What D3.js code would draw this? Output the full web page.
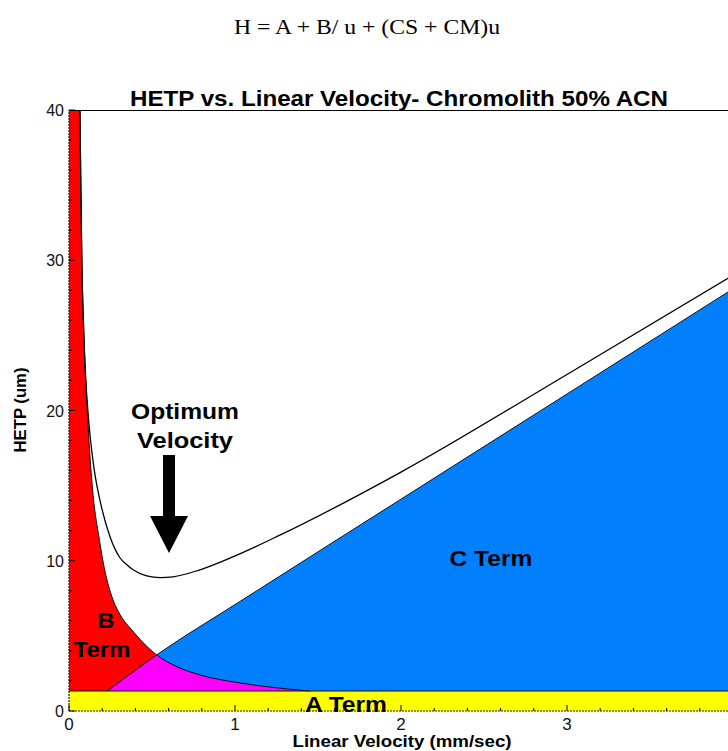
<!DOCTYPE html>
<html>
<head>
<meta charset="utf-8">
<script src="https://cdn.jsdelivr.net/npm/d3@7"></script>
<style>
  html, body { margin: 0; padding: 0; background: #fff; overflow: hidden; }
  svg { display: block; font-family: "Liberation Sans", Arial, sans-serif; }
</style>
</head>
<body>
<svg id="chart" width="728" height="751"></svg>
<script>
// ---- van Deemter contributions (HETP in um vs linear velocity in mm/sec) ----
const aTerm = 1.33;                       // eddy-diffusion (A) band height

// longitudinal diffusion (B/u) boundary, stacked on A
const bTermU = [0.062, 0.066, 0.072, 0.078, 0.090, 0.110, 0.140, 0.183, 0.203, 0.265, 0.295, 0.392, 0.528, 0.650, 0.789, 1.030, 1.330, 1.450];
const bTermH = [44.0, 40.0, 35.0, 30.0, 25.0, 20.0, 15.0, 11.4, 10.07, 7.40, 6.67, 5.22, 3.73, 2.95, 2.40, 1.87, 1.45, 1.33];

// mass-transfer (C·u) boundary, stacked on A
const cTermU = [0.229, 0.380, 0.528, 1.030, 2.000, 3.000, 4.000];
const cTermH = [1.33, 2.55, 3.73, 7.29, 14.10, 21.10, 28.10];

// overall plate height H = A + B/u + (CS + CM)u
const totalU = [0.062, 0.066, 0.072, 0.077, 0.088, 0.100, 0.115, 0.130, 0.150, 0.187, 0.247, 0.307, 0.347, 0.386, 0.468, 0.550, 0.627, 0.789, 0.990, 1.270, 2.000, 3.000, 4.000];
const totalH = [44.0, 40.0, 34.0, 30.0, 25.5, 22.3, 19.8, 18.0, 16.2, 14.0, 11.6, 10.2, 9.75, 9.40, 9.00, 8.88, 8.93, 9.40, 10.27, 11.70, 15.90, 22.40, 29.00];

const xTicks = [0, 1, 2, 3];
const yTicks = [0, 10, 20, 30, 40];
const xMinor = d3.range(0, 4.01, 0.2);
const yMinor = d3.range(0, 40.01, 2);

const zip = (us, hs) => us.map((u, i) => ({ u, h: hs[i] }));
const bPts = zip(bTermU, bTermH);
const cPts = zip(cTermU, cTermH);
const tPts = zip(totalU, totalH);

const svg = d3.select("#chart");
const x = d3.scaleLinear().domain([0, 4]).range([69, 733]);
const y = d3.scaleLinear().domain([0, 40]).range([711, 110]);

// plot clipping
const defs = svg.append("defs");
defs.append("clipPath").attr("id", "plotClip")
  .append("rect")
  .attr("x", x(0)).attr("y", y(40))
  .attr("width", x(4) - x(0)).attr("height", y(0) - y(40));

const area = d3.area().x(d => x(d.u)).y0(y(aTerm)).y1(d => y(d.h)).curve(d3.curveMonotoneX);
const line = d3.line().x(d => x(d.u)).y(d => y(d.h)).curve(d3.curveMonotoneX);

// B region runs from the y-axis out to where B/u meets the A band
const bRegion = [{ u: 0, h: bPts[0].h }].concat(bPts);
defs.append("clipPath").attr("id", "bClip")
  .append("path").attr("d", area(bRegion));

const plot = svg.append("g").attr("clip-path", "url(#plotClip)");

// A term
plot.append("rect")
  .attr("x", x(0)).attr("y", y(aTerm))
  .attr("width", x(4) - x(0)).attr("height", y(0) - y(aTerm))
  .attr("fill", "#ffff00");

// B term
plot.append("path").attr("d", area(bRegion)).attr("fill", "#ff0000");

// C term
plot.append("path").attr("d", area(cPts)).attr("fill", "#0080ff");

// overlap of B and C
plot.append("g").attr("clip-path", "url(#bClip)")
  .append("path").attr("d", area(cPts)).attr("fill", "#ff00ff");

// region outlines
plot.append("path").attr("d", line(bPts)).attr("fill", "none").attr("stroke", "#111").attr("stroke-width", 1);
plot.append("path").attr("d", line(cPts)).attr("fill", "none").attr("stroke", "#111").attr("stroke-width", 1);
plot.append("line")
  .attr("x1", x(0)).attr("x2", x(4)).attr("y1", y(aTerm)).attr("y2", y(aTerm))
  .attr("stroke", "#111").attr("stroke-width", 1.2);

// total HETP curve
plot.append("path").attr("d", line(tPts)).attr("fill", "none").attr("stroke", "#000").attr("stroke-width", 1.3);

// frame: top border
svg.append("line")
  .attr("x1", x(0)).attr("x2", x(4)).attr("y1", y(40) + 0.5).attr("y2", y(40) + 0.5)
  .attr("stroke", "#000").attr("stroke-width", 1);

// axes (ticks point into the plot)
const xAxis = svg.append("g").attr("transform", `translate(0,${y(0)})`);
xAxis.append("line").attr("x1", x(0)).attr("x2", x(4)).attr("stroke", "#222")
  .attr("stroke-width", 1.2).attr("stroke-dasharray", "2,1");
xAxis.selectAll(".minor").data(xMinor).join("line")
  .attr("x1", d => x(d)).attr("x2", d => x(d)).attr("y1", 0)
  .attr("y2", d => (Math.abs(d - Math.round(d)) < 1e-6 ? -6 : -3))
  .attr("stroke", "#000");
xAxis.selectAll(".lbl").data(xTicks).join("text")
  .attr("x", d => x(d)).attr("y", 19)
  .attr("text-anchor", "middle").attr("font-size", 17).attr("fill", "#111")
  .text(d => d);

const yAxis = svg.append("g").attr("transform", `translate(${x(0)},0)`);
yAxis.append("line").attr("y1", y(0)).attr("y2", y(40)).attr("stroke", "#222")
  .attr("stroke-width", 1.2).attr("stroke-dasharray", "2,1");
yAxis.selectAll(".minor").data(yMinor).join("line")
  .attr("y1", d => y(d)).attr("y2", d => y(d)).attr("x1", 0)
  .attr("x2", d => (d % 10 === 0 ? 6 : 3))
  .attr("stroke", "#000");
yAxis.selectAll(".lbl").data(yTicks).join("text")
  .attr("x", -5).attr("y", d => y(d) + 6)
  .attr("text-anchor", "end").attr("font-size", 16).attr("fill", "#111")
  .text(d => d);

// equation and titles
svg.append("text")
  .attr("x", 367).attr("y", 34).attr("text-anchor", "middle")
  .style("font-family", "'Liberation Serif', 'Times New Roman', serif")
  .attr("font-size", 21).attr("textLength", 266).attr("lengthAdjust", "spacingAndGlyphs")
  .text("H = A + B/ u + (CS + CM)u");

svg.append("text")
  .attr("x", 399).attr("y", 106).attr("text-anchor", "middle")
  .attr("font-weight", "bold").attr("font-size", 22)
  .attr("textLength", 538).attr("lengthAdjust", "spacingAndGlyphs")
  .text("HETP vs. Linear Velocity- Chromolith 50% ACN");

svg.append("text")
  .attr("transform", "translate(26,410) rotate(-90)")
  .attr("text-anchor", "middle").attr("font-weight", "bold").attr("font-size", 16)
  .attr("textLength", 85).attr("lengthAdjust", "spacingAndGlyphs")
  .text("HETP (um)");

svg.append("text")
  .attr("x", 402).attr("y", 747).attr("text-anchor", "middle")
  .attr("font-weight", "bold").attr("font-size", 16)
  .attr("textLength", 219).attr("lengthAdjust", "spacingAndGlyphs")
  .text("Linear Velocity (mm/sec)");

// term labels
const label = (txt, cx, by, len) => svg.append("text")
  .attr("x", cx).attr("y", by).attr("text-anchor", "middle")
  .attr("font-weight", "bold").attr("font-size", 22)
  .attr("textLength", len).attr("lengthAdjust", "spacingAndGlyphs")
  .text(txt);
label("B", 106, 628, 17);
label("Term", 102, 657, 57);
label("C Term", 491, 566, 83);
label("A Term", 346, 712, 82);

// optimum velocity annotation
label("Optimum", 185, 419, 108);
label("Velocity", 185, 448, 96);

const arrowPath = d3.path();
{
  const cx = 169, top = 455, neck = 516, tip = 553, sw = 6, hw = 19;
  arrowPath.moveTo(cx - sw, top); arrowPath.lineTo(cx + sw, top); arrowPath.lineTo(cx + sw, neck);
  arrowPath.lineTo(cx + hw, neck); arrowPath.lineTo(cx, tip); arrowPath.lineTo(cx - hw, neck);
  arrowPath.lineTo(cx - sw, neck); arrowPath.closePath();
}
svg.append("path").attr("d", arrowPath.toString()).attr("fill", "#000");
</script>
</body>
</html>
